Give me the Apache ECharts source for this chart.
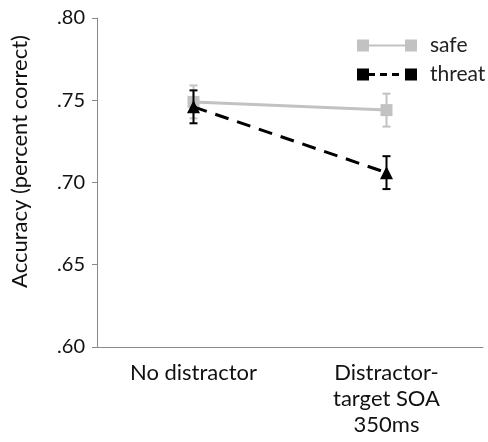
<!DOCTYPE html>
<html><head><meta charset="utf-8">
<script src="https://cdn.jsdelivr.net/npm/echarts@6/dist/echarts.min.js"></script>
<style>html,body{margin:0;padding:0;background:#fff}#c{width:488px;height:442px}</style>
</head><body><div id="c"></div>
<script>
var categories = ['No distractor', 'Distractor-\ntarget SOA\n350ms'];
var safeValues = [0.749, 0.744];
var safeErrors = [0.010, 0.010];
var threatValues = [0.746, 0.706];
var threatErrors = [0.010, 0.010];
var yTicks = [0.60, 0.65, 0.70, 0.75, 0.80];

var FONT = 'Lato, "Open Sans", sans-serif';
var GRAY = '#c2c2c2';

function errData(vals, errs) {
  return vals.map(function (v, i) { return [i, v - errs[i], v + errs[i]]; });
}
function errSeries(name, vals, errs, color, z) {
  return {
    type: 'custom', name: name + '_err', z: z, silent: true,
    data: errData(vals, errs),
    renderItem: function (params, api) {
      var lo = api.coord([api.value(0), api.value(1)]);
      var hi = api.coord([api.value(0), api.value(2)]);
      var w = 4;
      var st = { stroke: color, lineWidth: 2 };
      return { type: 'group', children: [
        { type: 'line', shape: { x1: hi[0], y1: hi[1], x2: lo[0], y2: lo[1] }, style: st },
        { type: 'line', shape: { x1: hi[0] - w, y1: hi[1], x2: hi[0] + w, y2: hi[1] }, style: st },
        { type: 'line', shape: { x1: lo[0] - w, y1: lo[1], x2: lo[0] + w, y2: lo[1] }, style: st }
      ] };
    }
  };
}

var chart = echarts.init(document.getElementById('c'), null, { renderer: 'canvas' });
chart.setOption({
  animation: false,
  textStyle: { fontFamily: FONT },
  grid: { left: 97, right: 5, top: 18, bottom: 95 },
  legend: {
    orient: 'vertical', left: 357, top: 34, padding: 0, itemWidth: 60, itemHeight: 12, itemGap: 6,
    textStyle: { fontSize: 21, lineHeight: 23, color: '#222', fontFamily: FONT, padding: [0, 0, 0, 8] },
    data: [
      { name: 'safe', icon: 'path://M0,0h12v12h-12z M12,5h36v2h-36z M48,0h12v12h-12z',
        itemStyle: { color: GRAY, borderWidth: 0 } },
      { name: 'threat', icon: 'path://M0,0h12v12h-12z M12,4.5h6v3h-6z M23,4.5h7v3h-7z M35,4.5h7v3h-7z M48,0h12v12h-12z',
        itemStyle: { color: '#000', borderWidth: 0 } }
    ]
  },
  xAxis: {
    type: 'category', data: categories, boundaryGap: true,
    axisLine: { lineStyle: { color: '#8a8a8a', width: 1 } },
    axisTick: { alignWithLabel: true, inside: true, length: 3, lineStyle: { color: '#8a8a8a' } },
    axisLabel: { fontSize: 22, color: '#111', lineHeight: 26, margin: 13, fontFamily: FONT }
  },
  yAxis: {
    type: 'value', min: yTicks[0], max: yTicks[yTicks.length - 1], interval: 0.05,
    name: 'Accuracy (percent correct)', nameLocation: 'middle', nameGap: 66, nameRotate: 90,
    nameTextStyle: { fontSize: 22, color: '#111', fontFamily: FONT, padding: [0, 0, 0, 42] },
    splitLine: { show: false },
    axisLine: { show: true, lineStyle: { color: '#8a8a8a', width: 1 } },
    axisTick: { show: true, length: 5, lineStyle: { color: '#8a8a8a' } },
    axisLabel: { fontSize: 20, color: '#111', margin: 12, fontFamily: FONT,
      formatter: function (v) { return v.toFixed(2).replace(/^0/, ''); } }
  },
  series: [
    errSeries('safe', safeValues, safeErrors, GRAY, 1),
    {
      type: 'line', name: 'safe', data: safeValues, z: 2,
      symbol: 'rect', symbolSize: 12,
      itemStyle: { color: GRAY },
      lineStyle: { color: GRAY, width: 3 }
    },
    errSeries('threat', threatValues, threatErrors, '#000', 3),
    {
      type: 'line', name: 'threat', data: threatValues, z: 4,
      symbol: 'triangle', symbolSize: [13, 13],
      itemStyle: { color: '#000' },
      lineStyle: { color: '#000', width: 3, type: [14, 9] }
    }
  ]
});
</script>
</body></html>
